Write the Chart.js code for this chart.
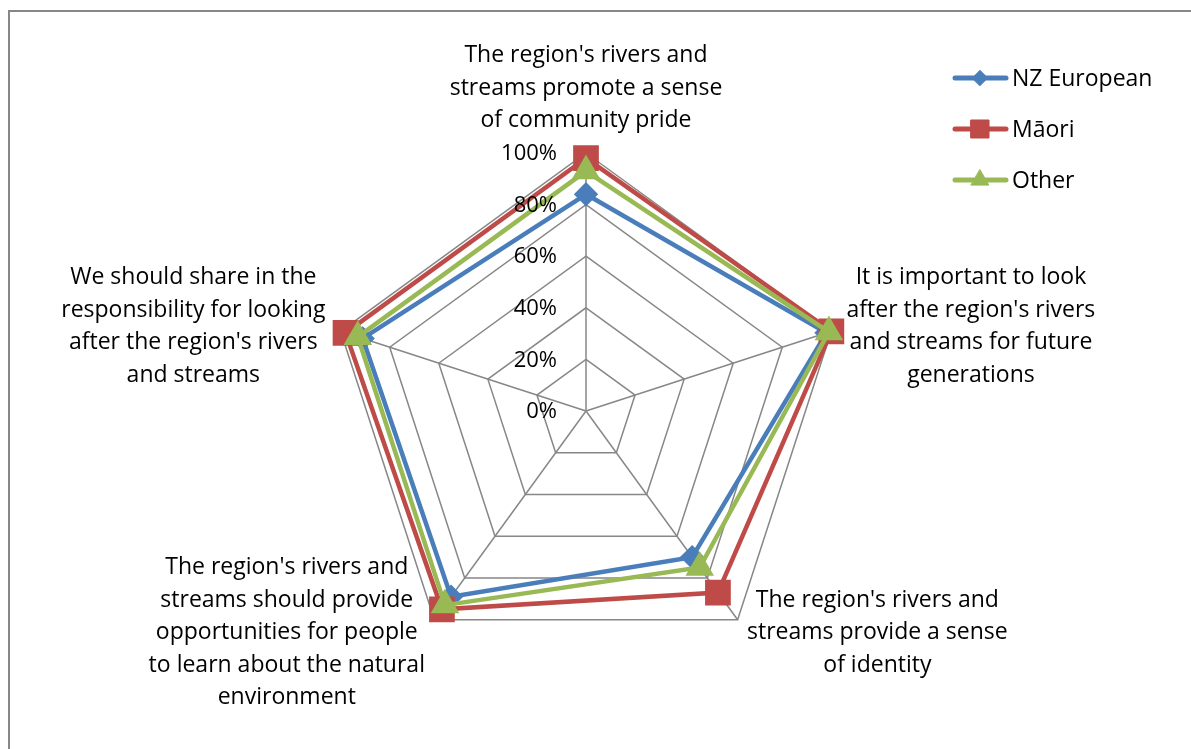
<!DOCTYPE html>
<html>
<head>
<meta charset="utf-8">
<script src="https://cdn.jsdelivr.net/npm/chart.js@4"></script>
<style>
  body { margin: 0; background: #fff; }
  .frame { position: absolute; left: 8px; top: 10px; width: 1300px; height: 900px;
           border-top: 2px solid #878787; border-left: 2px solid #878787; }
  canvas { position: absolute; left: 0; top: 0; }
</style>
</head>
<body>
<div class="frame"></div>
<canvas id="RadarChart" width="1191" height="749"></canvas>
<script>
const categories = [
    ["The region's rivers and", "streams promote a sense", "of community pride"],
    ["It is important to look", "after the region's rivers", "and streams for future", "generations"],
    ["The region's rivers and", "streams provide a sense", "of identity"],
    ["The region's rivers and", "streams should provide", "opportunities for people", "to learn about the natural", "environment"],
    ["We should share in the", "responsibility for looking", "after the region's rivers", "and streams"]
];
const nzEuropean = [84, 98, 70, 89, 91];
const maori = [98, 100, 87, 95, 98];
const other = [93, 99, 75, 93, 93];
const tickValues = [0, 20, 40, 60, 80, 100];
const tickLabels = ['0%', '20%', '40%', '60%', '80%', '100%'];

const FONT = '"Open Sans", "Noto Sans", sans-serif';

// point labels, centred lines like the original
const pointLabelPlugin = {
    id: 'pointLabelText',
    afterDraw(chart) {
        const scale = chart.scales.r;
        const ctx = chart.ctx;
        const lineH = 32.5;
        ctx.save();
        ctx.font = '23px ' + FONT;
        ctx.fillStyle = '#000';
        ctx.textBaseline = 'middle';
        ctx.textAlign = 'center';
        chart.data.labels.forEach((lines, i) => {
            const p = scale.getPointPosition(i, scale.drawingArea + 16);
            const w = Math.max(...lines.map(l => ctx.measureText(l).width));
            const h = lines.length * lineH;
            const cx = Math.cos(p.angle), cy = Math.sin(p.angle);
            let left = p.x - w / 2;
            if (cx > 0.1) left = p.x;
            else if (cx < -0.1) left = p.x - w;
            let top = p.y - h / 2;
            if (cy < -0.9) top = p.y - h;
            else if (cy > 0.9) top = p.y;
            lines.forEach((l, j) => {
                ctx.fillText(l, left + w / 2, top + lineH * (j + 0.5));
            });
        });
        ctx.restore();
    }
};

// tick labels sit left of the vertical axis
const tickLabelPlugin = {
    id: 'tickLabelText',
    afterDatasetsDraw(chart) {
        const scale = chart.scales.r;
        const ctx = chart.ctx;
        ctx.save();
        ctx.font = '22px ' + FONT;
        ctx.fillStyle = '#000';
        ctx.textAlign = 'right';
        ctx.textBaseline = 'middle';
        tickValues.forEach((v, i) => {
            const d = scale.getDistanceFromCenterForValue(v);
            ctx.fillText(tickLabels[i], scale.xCenter - 29, scale.yCenter - d + 1);
        });
        ctx.restore();
    }
};

// legend with line + marker like excel
const legendPlugin = {
    id: 'lineLegend',
    afterDraw(chart) {
        const ctx = chart.ctx;
        ctx.save();
        ctx.font = '23px ' + FONT;
        ctx.textBaseline = 'middle';
        ctx.textAlign = 'left';
        chart.data.datasets.forEach((ds, i) => {
            const y = 78 + i * 51;
            ctx.strokeStyle = ds.borderColor;
            ctx.fillStyle = ds.borderColor;
            ctx.lineWidth = 5;
            ctx.lineCap = 'round';
            ctx.beginPath();
            ctx.moveTo(955, y);
            ctx.lineTo(1006, y);
            ctx.stroke();
            ctx.lineWidth = 1;
            Chart.helpers.drawPoint(ctx, {
                pointStyle: ds.pointStyle,
                radius: ds.pointRadius * 0.85,
                rotation: 0,
                borderWidth: 1
            }, 980, y);
            ctx.fillStyle = '#000';
            ctx.fillText(ds.label, 1012, y + 1);
        });
        ctx.restore();
    }
};

const rtx = document.getElementById('RadarChart');

new Chart(rtx, {
    type: 'radar',
    data: {
        labels: categories,
        datasets: [{
            label: 'NZ European',
            data: nzEuropean,
            borderColor: '#4A7EBB',
            backgroundColor: '#4A7EBB',
            pointStyle: 'rectRot',
            pointRadius: 9,
            borderWidth: 4.5,
            fill: false,
            order: 2
        }, {
            label: 'Māori',
            data: maori,
            borderColor: '#BE4B48',
            backgroundColor: '#BE4B48',
            pointStyle: 'rect',
            pointRadius: 15,
            borderWidth: 4.5,
            fill: false,
            order: 1
        }, {
            label: 'Other',
            data: other,
            borderColor: '#98B954',
            backgroundColor: '#98B954',
            pointStyle: 'triangle',
            pointRadius: 12,
            borderWidth: 4.5,
            fill: false,
            order: 0
        }]
    },
    options: {
        responsive: false,
        animation: false,
        layout: {
            padding: { top: 153, bottom: 80, left: 300, right: 319 }
        },
        plugins: {
            legend: { display: false },
            tooltip: { enabled: false }
        },
        elements: {
            line: { tension: 0, borderJoinStyle: 'miter' },
            point: { borderWidth: 1 }
        },
        scales: {
            r: {
                min: 0,
                max: 100,
                ticks: { stepSize: 20, display: false },
                grid: { color: '#878787', lineWidth: 1.5 },
                angleLines: { color: '#878787', lineWidth: 1.5 },
                pointLabels: { display: false }
            }
        }
    },
    plugins: [pointLabelPlugin, tickLabelPlugin, legendPlugin]
});
</script>
</body>
</html>
